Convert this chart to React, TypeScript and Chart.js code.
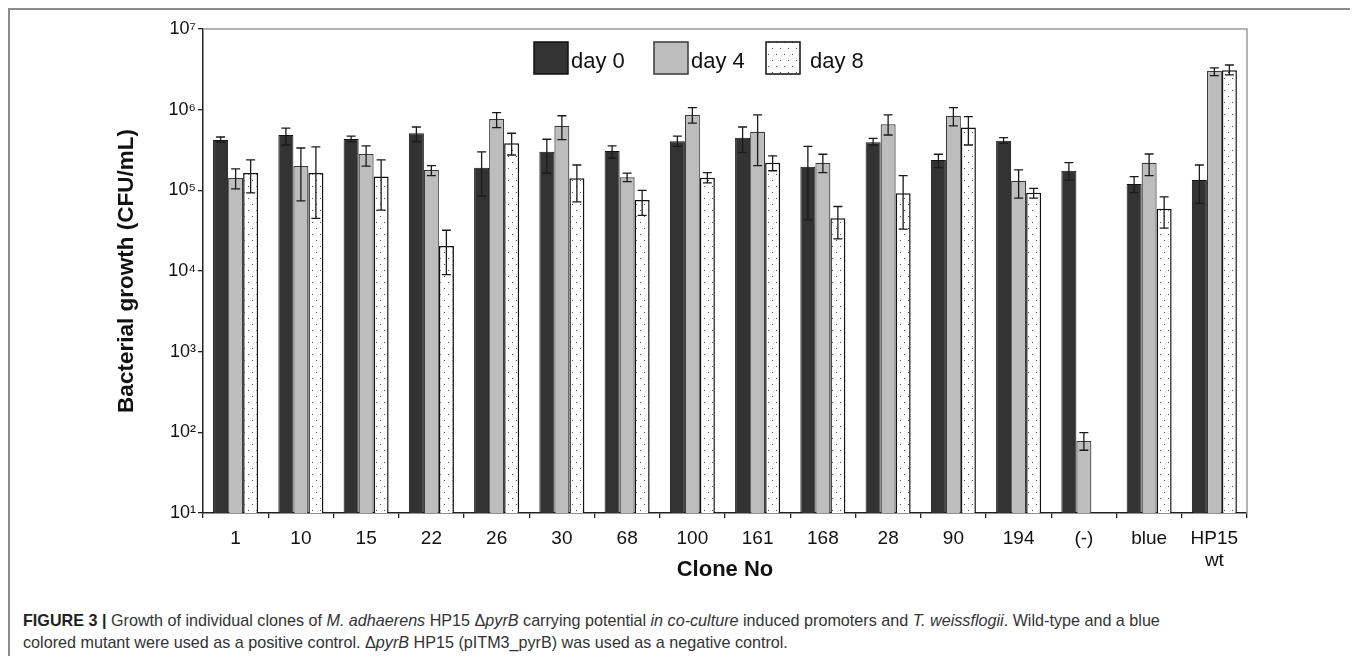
import React, { useEffect, useRef } from 'react';
import { Chart, registerables } from 'chart.js';

Chart.register(...registerables);

const categories: (string | string[])[] = ['1', '10', '15', '22', '26', '30', '68', '100', '161', '168', '28', '90', '194', '(-)', 'blue', ['HP15', 'wt']];

const seriesLabels = ['day 0', 'day 4', 'day 8'];

const day0 = [4.2e5, 4.85e5, 4.33e5, 5.1e5, 1.91e5, 3.0e5, 3.08e5, 4.05e5, 4.5e5, 1.96e5, 3.94e5, 2.38e5, 4.13e5, 1.75e5, 1.2e5, 1.34e5];
const day0Hi = [4.58e5, 5.9e5, 4.7e5, 6.1e5, 3.0e5, 4.3e5, 3.55e5, 4.7e5, 6.1e5, 3.5e5, 4.4e5, 2.8e5, 4.5e5, 2.2e5, 1.48e5, 2.06e5];
const day0Lo = [3.97e5, 3.65e5, 4.0e5, 4.0e5, 8.5e4, 1.64e5, 2.5e5, 3.5e5, 2.93e5, 4.3e4, 3.65e5, 1.91e5, 3.83e5, 1.34e5, 9.35e4, 6.9e4];

const day4 = [1.42e5, 2.0e5, 2.82e5, 1.79e5, 7.66e5, 6.3e5, 1.45e5, 8.6e5, 5.33e5, 2.2e5, 6.6e5, 8.4e5, 1.31e5, 78, 2.2e5, 3.02e6];
const day4Hi = [1.84e5, 3.35e5, 3.55e5, 2.02e5, 9.2e5, 8.4e5, 1.63e5, 1.06e6, 8.6e5, 2.8e5, 8.6e5, 1.06e6, 1.79e5, 99, 2.82e5, 3.3e6];
const day4Lo = [1.04e5, 7.4e4, 2.0e5, 1.52e5, 6.0e5, 4.25e5, 1.28e5, 6.8e5, 2.02e5, 1.66e5, 4.85e5, 6.3e5, 8.0e4, 60, 1.52e5, 2.64e6];

const day8 = [1.64e5, 1.64e5, 1.48e5, 2.04e4, 3.83e5, 1.41e5, 7.6e4, 1.43e5, 2.2e5, 4.5e4, 9.2e4, 6.0e5, 9.35e4, null, 5.9e4, 3.08e6];
const day8Hi = [2.38e5, 3.45e5, 2.38e5, 3.2e4, 5.1e5, 2.06e5, 1.0e5, 1.66e5, 2.67e5, 6.3e4, 1.52e5, 8.2e5, 1.06e5, null, 8.3e4, 3.58e6];
const day8Lo = [9.3e4, 4.5e4, 5.7e4, 9.0e3, 2.74e5, 7.2e4, 4.9e4, 1.24e5, 1.75e5, 2.5e4, 3.3e4, 3.65e5, 8.0e4, null, 3.4e4, 2.7e6];

const yTickValues = [10, 100, 1e3, 1e4, 1e5, 1e6, 1e7];
const yTickLabels = ['10¹', '10²', '10³', '10⁴', '10⁵', '10⁶', '10⁷'];

const yTitle = 'Bacterial growth (CFU/mL)';
const xTitle = 'Clone No';

const FONT = "'Liberation Sans', Arial, Helvetica, sans-serif";

function makeDotPattern(): CanvasPattern | string {
  const c = document.createElement('canvas');
  c.width = 8;
  c.height = 12;
  const g = c.getContext('2d');
  if (!g) return '#fff';
  g.fillStyle = '#ffffff';
  g.fillRect(0, 0, 8, 12);
  g.fillStyle = '#555555';
  g.fillRect(2, 2, 1, 1);
  g.fillRect(6, 8, 1, 1);
  return g.createPattern(c, 'repeat') || '#fff';
}

const errorBarPlugin = {
  id: 'errorBars',
  afterDatasetsDraw(chart: any) {
    const { ctx } = chart;
    const yScale = chart.scales.y;
    chart.data.datasets.forEach((ds: any, i: number) => {
      const meta = chart.getDatasetMeta(i);
      meta.data.forEach((el: any, j: number) => {
        const hi = ds.errHi[j];
        const lo = ds.errLo[j];
        if (hi == null || lo == null || ds.data[j] == null) return;
        const x = el.x;
        const yh = yScale.getPixelForValue(hi);
        const yl = yScale.getPixelForValue(lo);
        ctx.save();
        ctx.strokeStyle = '#1a1a1a';
        ctx.lineWidth = 1.3;
        ctx.beginPath();
        ctx.moveTo(x, yh);
        ctx.lineTo(x, yl);
        ctx.moveTo(x - 4.5, yh);
        ctx.lineTo(x + 4.5, yh);
        ctx.moveTo(x - 4.5, yl);
        ctx.lineTo(x + 4.5, yl);
        ctx.stroke();
        ctx.restore();
      });
    });
  },
};

const framePlugin = {
  id: 'frame',
  beforeDatasetsDraw(chart: any) {
    const { ctx, chartArea } = chart;
    ctx.save();
    ctx.strokeStyle = '#9a9a9a';
    ctx.lineWidth = 1.5;
    ctx.beginPath();
    ctx.moveTo(chartArea.left, chartArea.top);
    ctx.lineTo(chartArea.right, chartArea.top);
    ctx.lineTo(chartArea.right, chartArea.bottom);
    ctx.stroke();
    ctx.restore();
  },
};

const legendPlugin = {
  id: 'customLegend',
  afterDraw(chart: any) {
    const { ctx } = chart;
    const boxX = [524, 644, 756];
    const textX = [561, 681, 800];
    const boxY = 32;
    const boxW = 34;
    const boxH = 32;
    ctx.save();
    chart.data.datasets.forEach((ds: any, i: number) => {
      ctx.fillStyle = ds.backgroundColor;
      ctx.fillRect(boxX[i], boxY, boxW, boxH);
      ctx.strokeStyle = ds.borderColor;
      ctx.lineWidth = 1.5;
      ctx.strokeRect(boxX[i], boxY, boxW, boxH);
      ctx.fillStyle = '#111';
      ctx.font = `22px ${FONT}`;
      ctx.textBaseline = 'alphabetic';
      ctx.textAlign = 'left';
      ctx.fillText(ds.label, textX[i], 58);
    });
    ctx.restore();
  },
};

export default function App() {
  const canvasRef = useRef<HTMLCanvasElement | null>(null);

  useEffect(() => {
    if (!canvasRef.current) return;
    Chart.defaults.font.family = FONT;
    const dots = makeDotPattern();
    const chart = new Chart(canvasRef.current, {
      type: 'bar',
      data: {
        labels: categories,
        datasets: [
          {
            label: seriesLabels[0],
            data: day0,
            errHi: day0Hi,
            errLo: day0Lo,
            backgroundColor: '#333333',
            borderColor: '#111111',
            borderWidth: 1,
            categoryPercentage: 0.69,
            barPercentage: 1,
          } as any,
          {
            label: seriesLabels[1],
            data: day4,
            errHi: day4Hi,
            errLo: day4Lo,
            backgroundColor: '#bdbdbd',
            borderColor: '#3a3a3a',
            borderWidth: 1.2,
            categoryPercentage: 0.69,
            barPercentage: 1,
          } as any,
          {
            label: seriesLabels[2],
            data: day8,
            errHi: day8Hi,
            errLo: day8Lo,
            backgroundColor: dots,
            borderColor: '#111111',
            borderWidth: 1.5,
            categoryPercentage: 0.69,
            barPercentage: 1,
          } as any,
        ],
      },
      options: {
        responsive: false,
        maintainAspectRatio: false,
        animation: false,
        events: [],
        layout: { padding: { top: 19, right: 107, bottom: 0, left: 0 } },
        plugins: {
          legend: { display: false },
          tooltip: { enabled: false },
          title: { display: false },
        },
        scales: {
          x: {
            type: 'category',
            offset: true,
            grid: {
              offset: true,
              drawOnChartArea: false,
              drawTicks: true,
              tickLength: 5,
              color: '#222',
              lineWidth: 1.3,
            },
            border: { display: true, color: '#222', width: 1.5 },
            ticks: {
              autoSkip: false,
              maxRotation: 0,
              minRotation: 0,
              padding: 10,
              color: '#111',
              font: { size: 19, lineHeight: 1.16 },
            },
            title: {
              display: true,
              text: xTitle,
              color: '#111',
              font: { size: 22, weight: 'bold', lineHeight: 1.2 },
              padding: { top: 0, bottom: 27 },
            },
            afterFit(scale: any) {
              scale.height = 97;
            },
          },
          y: {
            type: 'logarithmic',
            min: 10,
            max: 1e7,
            grid: {
              drawOnChartArea: false,
              drawTicks: true,
              tickLength: 5,
              color: '#222',
              lineWidth: 1.3,
            },
            border: { display: true, color: '#222', width: 1.5 },
            afterBuildTicks(scale: any) {
              scale.ticks = yTickValues.map((v) => ({ value: v, major: true }));
            },
            ticks: {
              padding: 2,
              color: '#111',
              font: { size: 18 },
              callback: (v: any) => {
                const i = yTickValues.indexOf(Number(v));
                return i >= 0 ? yTickLabels[i] : '';
              },
            },
            title: {
              display: true,
              text: yTitle,
              color: '#111',
              font: { size: 22.5, weight: 'bold', lineHeight: 1.2 },
              padding: { top: 103.5, bottom: 0 },
            },
            afterFit(scale: any) {
              scale.width = 193;
            },
          },
        },
      } as any,
      plugins: [framePlugin, errorBarPlugin, legendPlugin],
    });
    return () => {
      chart.destroy();
    };
  }, []);

  const frame = '2px solid #8c8c8c';
  return (
    <div
      style={{
        position: 'relative',
        width: 1344,
        height: 646,
        borderLeft: frame,
        borderTop: frame,
        borderRight: frame,
        background: '#fff',
        overflow: 'hidden',
      }}
    >
      <div style={{ position: 'absolute', left: 0, top: 0, width: 1344, height: 600 }}>
        <canvas ref={canvasRef} width={1344} height={600} style={{ display: 'block' }} />
      </div>
      <div
        style={{
          position: 'absolute',
          left: 13,
          top: 600,
          fontFamily: FONT,
          fontSize: 17,
          lineHeight: '22px',
          color: '#333',
          whiteSpace: 'nowrap',
          transform: 'scaleX(0.95)',
          transformOrigin: 'left top',
        }}
      >
        <b style={{ color: '#222' }}>FIGURE 3 |</b> Growth of individual clones of <i>M. adhaerens</i> HP15 Δ<i>pyrB</i> carrying
        potential <i>in co-culture</i> induced promoters and <i>T. weissflogii</i>. Wild-type and a blue
        <br />
        colored mutant were used as a positive control. Δ<i>pyrB</i> HP15 (pITM3_pyrB) was used as a negative control.
      </div>
    </div>
  );
}
